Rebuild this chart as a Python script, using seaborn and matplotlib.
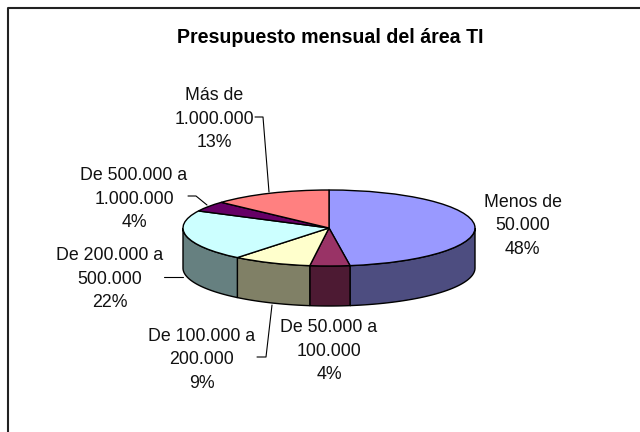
import numpy as np
import matplotlib
matplotlib.use("Agg")
import matplotlib.pyplot as plt
from matplotlib.lines import Line2D
import seaborn as sns

categories = ["Menos de\n50.000", "De 50.000 a\n100.000", "De 100.000 a\n200.000",
              "De 200.000 a\n500.000", "De 500.000 a\n1.000.000", "Más de\n1.000.000"]
shares = [47.7, 4.4, 8.7, 21.6, 4.4, 13.2]
top_colors = ["#9999FF", "#993366", "#FFFFCC", "#CCFFFF", "#660066", "#FF8080"]
side_colors = ["#4D4D80", "#4D1A33", "#808066", "#668080", "#330033", "#804040"]
title = "Presupuesto mensual del área TI"

W, H = 640, 432
CX, CY, RX, RY, DEPTH = 329, 228, 146, 38, 40

sns.set_theme(style="white")
plt.rcParams["font.family"] = ["Liberation Sans", "DejaVu Sans"]

fig = plt.figure(figsize=(W / 100, H / 100), dpi=100, facecolor="white")
ax = fig.add_axes([0, 0, 1, 1])

def px(x, y):
    return x / W, 1 - y / H

# side walls, from the same shares as the top
d = DEPTH / RY
edges = np.cumsum([0] + shares) * 3.6
for a0, a1, c in zip(edges[:-1], edges[1:], side_colors):
    lo, hi = max(a0, 90), min(a1, 270)
    if hi <= lo:
        continue
    t = np.radians(np.linspace(lo, hi, 80))
    xs, ys = np.sin(t), np.cos(t)
    ax.fill(np.r_[xs, xs[::-1]], np.r_[ys, ys[::-1] - d], facecolor=c,
            edgecolor="black", linewidth=1, zorder=1)

# top of the pie
ax.pie(shares, colors=sns.color_palette(top_colors), startangle=90, counterclock=False,
       radius=1, wedgeprops=dict(edgecolor="black", linewidth=1, zorder=2), frame=True)
ax.set_aspect("auto")
ax.set_xlim(-CX / RX, (W - CX) / RX)
ax.set_ylim((CY - H) / RY, CY / RY)
ax.axis("off")

# chart frame: only the left and top edges are inside the picture
fx, fy = zip(*[px(7.5, 432), px(7.5, 8), px(640, 8)])
fig.add_artist(Line2D(fx, fy, color="#222222", linewidth=1.5, transform=fig.transFigure))

fig.text(*px(330.5, 37.5), title, ha="center", va="center", fontsize=14.1, fontweight="bold", color="black")

label_pos = [(522.5, 226), (329, 351), (202, 360), (110, 279), (134, 199), (214, 119)]
for name, v, (x, y) in zip(categories, shares, label_pos):
    fig.text(*px(x, y), f"{name}\n{v:.0f}%", ha="center", va="center", fontsize=12.8,
             linespacing=1.5, color="#111111")

leaders = [
    [(255, 117), (263, 117), (269, 192)],
    [(188, 196), (196, 196), (207, 205)],
    [(164, 277), (183, 277)],
    [(257, 357), (266, 357), (272, 305)],
]
for pts in leaders:
    xs, ys = zip(*[px(*p) for p in pts])
    fig.add_artist(Line2D(xs, ys, color="black", linewidth=0.8, transform=fig.transFigure))

fig.savefig("out.png", dpi=100, facecolor="white")
